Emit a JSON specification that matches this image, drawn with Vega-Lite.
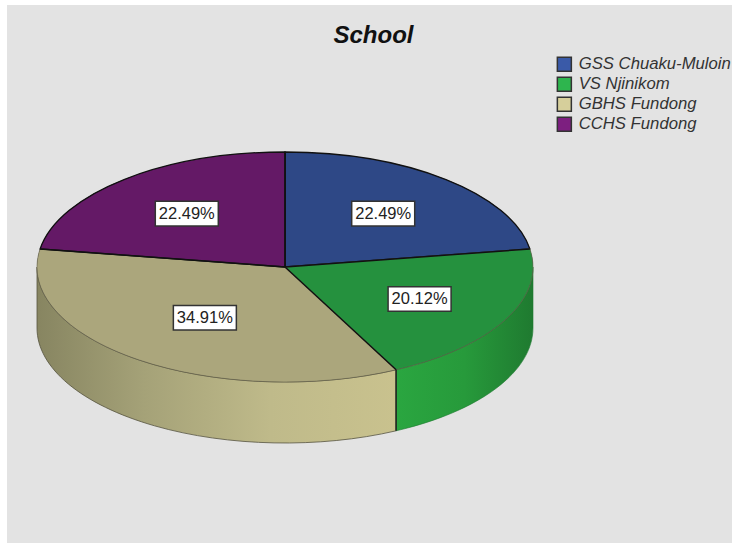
{
 "$schema":"https://vega.github.io/schema/vega-lite/v6.json",
 "width":725,"height":538,
 "padding":{"left":7,"top":5,"right":1,"bottom":2},
 "autosize":"none",
 "background":"white",
 "view":{"fill":"#e3e3e3","stroke":null},
 "title":{"text":"School","font":"Liberation Sans","fontSize":24,"fontWeight":"bold","fontStyle":"italic","color":"#111","anchor":"middle","dx":4,"offset":-62,"baseline":"alphabetic"},
 "data":{"values":[
  {"order":1,"school":"GSS Chuaku-Muloin","share":22.49},
  {"order":2,"school":"VS Njinikom","share":20.12},
  {"order":3,"school":"GBHS Fundong","share":34.91},
  {"order":4,"school":"CCHS Fundong","share":22.49}
 ]},
 "transform":[
  {"joinaggregate":[{"op":"sum","field":"share","as":"total"}]},
  {"stack":"share","groupby":[],"sort":[{"field":"order","order":"ascending"}],"as":["p0","p1"]},
  {"calculate":"2*PI*datum.p0/datum.total","as":"a0"},
  {"calculate":"2*PI*datum.p1/datum.total","as":"a1"},
  {"calculate":"round(1e5*sin(datum.a0))/1e5","as":"x0"},
  {"calculate":"round(-1e5*0.4637*cos(datum.a0))/1e5","as":"y0"},
  {"calculate":"round(1e5*sin(datum.a1))/1e5","as":"x1"},
  {"calculate":"round(-1e5*0.4637*cos(datum.a1))/1e5","as":"y1"},
  {"calculate":"'M0,0L'+datum.x0+','+datum.y0+'A1,0.4637,0,'+(datum.a1-datum.a0>PI?1:0)+',1,'+datum.x1+','+datum.y1+'Z'","as":"wedge"},
  {"calculate":"max(datum.a0,PI/2)","as":"w0"},
  {"calculate":"min(datum.a1,3*PI/2)","as":"w1"},
  {"calculate":"round(1e5*sin(datum.w0))/1e5","as":"wx0"},
  {"calculate":"round(-1e5*0.4637*cos(datum.w0))/1e5","as":"wy0"},
  {"calculate":"round(1e5*sin(datum.w1))/1e5","as":"wx1"},
  {"calculate":"round(-1e5*0.4637*cos(datum.w1))/1e5","as":"wy1"},
  {"calculate":"'M'+datum.wx0+','+datum.wy0+'A1,0.4637,0,0,1,'+datum.wx1+','+datum.wy1+'L'+datum.wx1+','+(datum.wy1+0.246)+'A1,0.4637,0,0,0,'+datum.wx0+','+(datum.wy0+0.246)+'Z'","as":"wall"},
  {"calculate":"(datum.a0+datum.a1)/2","as":"am"},
  {"calculate":"datum.share>30?0.547:0.61","as":"k"},
  {"calculate":"datum.k*sin(datum.am)","as":"lx"},
  {"calculate":"datum.k*0.4637*cos(datum.am)","as":"ly"},
  {"calculate":"-datum.y0","as":"ey"},
  {"calculate":"-datum.y0-0.246","as":"ey2"},
  {"calculate":"0","as":"cx"},
  {"calculate":"format(datum.share,'.2f')+'%'","as":"label"}
 ],
 "encoding":{
  "x":{"field":"cx","type":"quantitative","scale":{"domain":[-1.12097,1.80242],"nice":false,"zero":false},"axis":null},
  "y":{"field":"cx","type":"quantitative","scale":{"domain":[-1.1129,1.05645],"nice":false,"zero":false},"axis":null}
 },
 "layer":[
  {"transform":[{"filter":"datum.school=='GBHS Fundong'"}],
   "mark":{"type":"point","filled":true,"size":246016,"opacity":1,"stroke":"#55533f","strokeWidth":0.8,
    "fill":{"x1":0,"x2":1,"y1":0,"y2":0,"gradient":"linear","stops":[{"offset":0,"color":"#878561"},{"offset":0.3,"color":"#a5a278"},{"offset":0.65,"color":"#bfba8a"},{"offset":1,"color":"#c9c28e"}]}},
   "encoding":{"shape":{"field":"wall","type":"nominal","scale":null,"legend":null}}},
  {"transform":[{"filter":"datum.school=='VS Njinikom'"}],
   "mark":{"type":"point","filled":true,"size":246016,"opacity":1,"stroke":"#1f7a30","strokeWidth":0.6,
    "fill":{"x1":0,"x2":1,"y1":0,"y2":0,"gradient":"linear","stops":[{"offset":0,"color":"#2aa640"},{"offset":0.5,"color":"#279a3b"},{"offset":1,"color":"#1f7a30"}]}},
   "encoding":{"shape":{"field":"wall","type":"nominal","scale":null,"legend":null}}},
  {"mark":{"type":"point","filled":true,"size":246016,"opacity":1,"fill":"#000"},
   "encoding":{"shape":{"field":"wedge","type":"nominal","scale":null,"legend":null}}},
  {"mark":{"type":"point","filled":true,"size":246016,"fillOpacity":0.8},
   "encoding":{
    "shape":{"field":"wedge","type":"nominal","scale":null,"legend":null},
    "fill":{"field":"school","type":"nominal","title":null,
     "scale":{"domain":["GSS Chuaku-Muloin","VS Njinikom","GBHS Fundong","CCHS Fundong"],"range":["#3a5aa8","#2eb54e","#d6cf9b","#7d1f80"]},
     "legend":{"orient":"none","legendX":549,"legendY":51,"padding":0,"symbolType":"square","symbolSize":196,"symbolStrokeColor":"#333","symbolStrokeWidth":1.5,"symbolOpacity":1,"rowPadding":-1,"labelFont":"Liberation Sans","labelFontSize":16.7,"labelFontStyle":"italic","labelColor":"#333","labelOffset":6,"labelLimit":200}},
    "stroke":{"condition":{"test":"datum.school=='GSS Chuaku-Muloin'||datum.school=='CCHS Fundong'","value":"#111"},"value":"#6b6850"},
    "strokeWidth":{"condition":{"test":"datum.school=='GSS Chuaku-Muloin'||datum.school=='CCHS Fundong'","value":1.3},"value":0.6}
   }},
  {"mark":{"type":"rule","color":"#111","strokeWidth":1.5},
   "encoding":{"x2":{"field":"x0"},"y2":{"field":"ey"}}},
  {"transform":[{"filter":"datum.school=='GBHS Fundong'"}],
   "mark":{"type":"rule","color":"#222","strokeWidth":1.5},
   "encoding":{
    "x":{"field":"x0","type":"quantitative","scale":{"domain":[-1.12097,1.80242],"nice":false,"zero":false},"axis":null},
    "y":{"field":"ey","type":"quantitative","scale":{"domain":[-1.1129,1.05645],"nice":false,"zero":false},"axis":null},
    "x2":null,
    "y2":{"field":"ey2"}}},
  {"mark":{"type":"point","filled":true,"size":3969,"opacity":1,"fill":"white","stroke":"#333","strokeWidth":1.5,"shape":"M-1,-0.39H1V0.39H-1Z"},
   "encoding":{
    "x":{"field":"lx","type":"quantitative","scale":{"domain":[-1.12097,1.80242],"nice":false,"zero":false},"axis":null},
    "y":{"field":"ly","type":"quantitative","scale":{"domain":[-1.1129,1.05645],"nice":false,"zero":false},"axis":null}}},
  {"mark":{"type":"text","font":"Liberation Sans","fontSize":16.5,"color":"#222","align":"center","baseline":"middle"},
   "encoding":{
    "x":{"field":"lx","type":"quantitative","scale":{"domain":[-1.12097,1.80242],"nice":false,"zero":false},"axis":null},
    "y":{"field":"ly","type":"quantitative","scale":{"domain":[-1.1129,1.05645],"nice":false,"zero":false},"axis":null},
    "text":{"field":"label"}}}
 ]
}
